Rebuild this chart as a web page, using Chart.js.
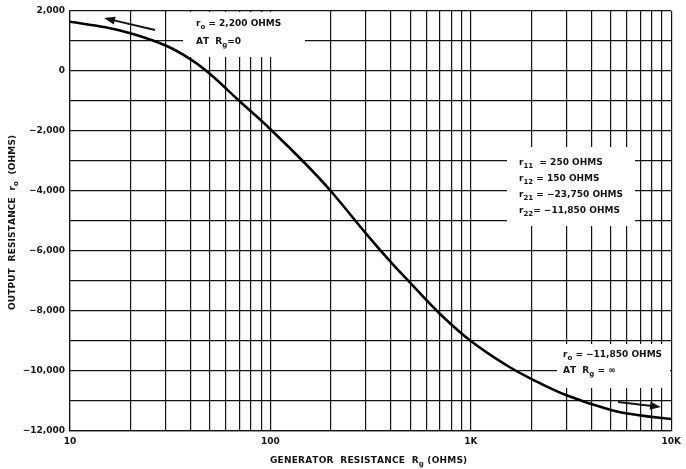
<!DOCTYPE html>
<html>
<head>
<meta charset="utf-8">
<script src="https://cdn.jsdelivr.net/npm/chart.js@4.4.1/dist/chart.umd.min.js"></script>
<style>
html, body { margin: 0; padding: 0; background: #fff; }
#wrap { width: 686px; height: 469px; position: relative; }
</style>
</head>
<body>
<div id="wrap"><canvas id="chart"></canvas></div>
<script>
// generator resistance Rg (ohms) and output resistance r0 (ohms)
const resistance = [10, 15, 20, 30, 40, 50, 70, 100, 150, 200, 300, 400, 500, 700, 1000, 1500, 2000, 3000, 5000, 7000, 10000];
const outputR = [1640, 1460, 1260, 850, 390, -100, -1000, -1940, -3100, -4000, -5420, -6380, -7070, -8090, -9000, -9800, -10260, -10810, -11300, -11480, -11600];

const xGridValues = [10, 20, 30, 40, 50, 60, 70, 80, 90, 100, 200, 300, 400, 500, 600, 700, 800, 900, 1000, 2000, 3000, 4000, 5000, 6000, 7000, 8000, 9000, 10000];
const xTickLabels = { 10: "10", 100: "100", 1000: "1K", 10000: "10K" };
const yMin = -12000, yMax = 2000, yStep = 1000;

const FONT = '"DejaVu Sans", sans-serif';
const INK = "#141414";

function fmt(v) {
    if (v === 0) return "0";
    return (v < 0 ? "\u2212" : "") + Math.abs(v).toLocaleString("en-US");
}

// text runs: [text, isSub]
function richWidth(ctx, parts, size, spacing) {
    let w = 0;
    parts.forEach(p => {
        ctx.font = "bold " + (p[1] ? size - 2 : size) + "px " + FONT;
        for (const ch of p[0]) w += ctx.measureText(ch).width + spacing;
    });
    return w;
}
function drawRich(ctx, parts, x, y, size, spacing) {
    spacing = spacing || 0;
    ctx.fillStyle = INK;
    ctx.textBaseline = "middle";
    ctx.textAlign = "left";
    parts.forEach(p => {
        ctx.font = "bold " + (p[1] ? size - 2 : size) + "px " + FONT;
        const dy = p[1] ? 3 : 0;
        for (const ch of p[0]) {
            ctx.fillText(ch, x, y + dy);
            x += ctx.measureText(ch).width + spacing;
        }
    });
}
function arrow(ctx, x1, y1, x2, y2) {
    const a = Math.atan2(y2 - y1, x2 - x1);
    ctx.strokeStyle = INK;
    ctx.fillStyle = INK;
    ctx.lineWidth = 2;
    ctx.beginPath();
    ctx.moveTo(x1, y1);
    ctx.lineTo(x2 - 7 * Math.cos(a), y2 - 7 * Math.sin(a));
    ctx.stroke();
    ctx.beginPath();
    ctx.moveTo(x2, y2);
    ctx.lineTo(x2 - 11 * Math.cos(a) + 4 * Math.sin(a), y2 - 11 * Math.sin(a) - 4 * Math.cos(a));
    ctx.lineTo(x2 - 11 * Math.cos(a) - 4 * Math.sin(a), y2 - 11 * Math.sin(a) + 4 * Math.cos(a));
    ctx.closePath();
    ctx.fill();
}

const notesPlugin = {
    id: "notes",
    beforeDatasetsDraw(chart) {
        const ctx = chart.ctx;
        ctx.save();
        ctx.fillStyle = "#fff";
        ctx.fillRect(183, 12, 122, 45);
        ctx.fillRect(507, 147, 128, 79);
        ctx.fillRect(557, 344, 113, 44);
        ctx.restore();
    },
    afterDatasetsDraw(chart) {
        const ctx = chart.ctx;
        ctx.save();
        drawRich(ctx, [["r"], ["o", 1], [" = 2,200 OHMS"]], 196, 24, 9);
        drawRich(ctx, [["AT  R"], ["g", 1], ["=0"]], 196, 42, 9);

        drawRich(ctx, [["r"], ["11", 1], ["  = 250 OHMS"]], 519, 163, 9);
        drawRich(ctx, [["r"], ["12", 1], [" = 150 OHMS"]], 519, 179, 9);
        drawRich(ctx, [["r"], ["21", 1], [" = \u221223,750 OHMS"]], 519, 195, 9);
        drawRich(ctx, [["r"], ["22", 1], ["= \u221211,850 OHMS"]], 519, 211, 9);

        drawRich(ctx, [["r"], ["o", 1], [" = \u221211,850 OHMS"]], 563, 355, 9);
        drawRich(ctx, [["AT  R"], ["g", 1], [" = \u221e"]], 563, 371, 9);

        arrow(ctx, 155, 30, 104, 18);
        arrow(ctx, 618, 402, 661, 407);
        ctx.restore();
    },
    afterDraw(chart) {
        const ctx = chart.ctx;
        ctx.save();
        const xt = [["GENERATOR  RESISTANCE  R"], ["g", 1], [" (OHMS)"]];
        const sx = (197 - richWidth(ctx, xt, 9, 0)) / 30;
        drawRich(ctx, xt, 270, 461, 9, sx);

        const yt = [["OUTPUT  RESISTANCE  r"], ["o", 1], ["  (OHMS)"]];
        const sy = (175 - richWidth(ctx, yt, 9, 0)) / 28;
        ctx.translate(13, 310);
        ctx.rotate(-Math.PI / 2);
        drawRich(ctx, yt, 0, 0, 9, sy);
        ctx.restore();
    }
};

const ctx = document.getElementById("chart").getContext("2d");
new Chart(ctx, {
    type: "line",
    data: {
        datasets: [{
            data: resistance.map((r, i) => ({ x: r, y: outputR[i] })),
            borderColor: "#000",
            borderWidth: 2.6,
            pointRadius: 0,
            fill: false,
            tension: 0.4
        }]
    },
    options: {
        responsive: true,
        maintainAspectRatio: false,
        animation: false,
        layout: { padding: { top: 11, right: 13, left: 0, bottom: 0 } },
        plugins: { legend: { display: false }, tooltip: { enabled: false } },
        scales: {
            x: {
                type: "logarithmic",
                min: 10,
                max: 10000,
                afterBuildTicks(scale) {
                    scale.ticks = xGridValues.map(v => ({ value: v }));
                },
                afterFit(scale) { scale.height = 38; },
                grid: { color: INK, lineWidth: 1.2, drawTicks: false },
                border: { color: INK, width: 1.2 },
                ticks: {
                    autoSkip: false,
                    maxRotation: 0,
                    padding: 5,
                    color: INK,
                    font: { family: FONT, size: 9, weight: "bold" },
                    callback: v => xTickLabels[v] || ""
                }
            },
            y: {
                min: yMin,
                max: yMax,
                afterFit(scale) { scale.width = 70; },
                grid: { color: INK, lineWidth: 1.2, drawTicks: false },
                border: { color: INK, width: 1.2 },
                ticks: {
                    stepSize: yStep,
                    autoSkip: false,
                    padding: 5,
                    color: INK,
                    font: { family: FONT, size: 9, weight: "bold" },
                    callback: v => (v % 2000 === 0 ? fmt(v) : "")
                }
            }
        }
    },
    plugins: [notesPlugin]
});
</script>
</body>
</html>
